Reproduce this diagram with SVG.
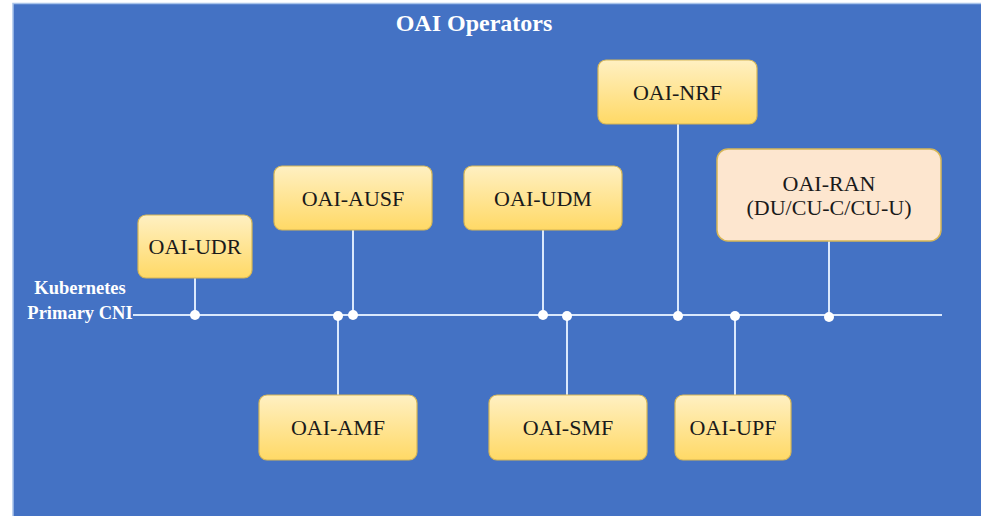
<svg xmlns="http://www.w3.org/2000/svg" width="981" height="516" viewBox="0 0 981 516">
<style>
.lbl{font-family:"Liberation Serif","Times New Roman",serif;font-size:22px;fill:#1a1a1a;text-anchor:middle}
.box{fill:url(#gold);stroke:#d6b656;stroke-width:1.2}
.ran{fill:#fde6cf;stroke:#d6b656;stroke-width:1.5}
.wt{font-family:"Liberation Serif","Times New Roman",serif;font-weight:bold;fill:#ffffff;text-anchor:middle}
.ln{stroke:#dae8fc;stroke-width:2;fill:none}
.dot{fill:#ffffff}
</style>
<defs>
<linearGradient id="gold" x1="0" y1="0" x2="0" y2="1">
<stop offset="0" stop-color="#fff0c2"/>
<stop offset="1" stop-color="#ffd966"/>
</linearGradient>
</defs>
<rect x="0" y="0" width="981" height="516" fill="#ffffff"/>
<rect x="13" y="3.5" width="969" height="514" fill="#4472c4" stroke="#a9c4ea" stroke-width="1.5"/>
<text class="wt" x="474" y="31" font-size="24">OAI Operators</text>
<text class="wt" x="80" y="294" font-size="18.5">Kubernetes</text>
<text class="wt" x="80" y="319" font-size="18.5">Primary CNI</text>
<g id="connectors">
<line class="ln" x1="133" y1="315" x2="942" y2="315"/>
<line class="ln" x1="195" y1="278" x2="195" y2="315"/>
<line class="ln" x1="353" y1="230" x2="353" y2="315"/>
<line class="ln" x1="338" y1="315" x2="338" y2="395"/>
<line class="ln" x1="543" y1="230" x2="543" y2="315"/>
<line class="ln" x1="567" y1="315" x2="567" y2="395"/>
<line class="ln" x1="678" y1="124" x2="678" y2="315"/>
<line class="ln" x1="735" y1="315" x2="735" y2="395"/>
<line class="ln" x1="829" y1="240" x2="829" y2="315"/>
<circle class="dot" cx="195" cy="315" r="5"/>
<circle class="dot" cx="338" cy="316" r="5"/>
<circle class="dot" cx="353" cy="315" r="5"/>
<circle class="dot" cx="543" cy="315" r="5"/>
<circle class="dot" cx="567" cy="316" r="5"/>
<circle class="dot" cx="678" cy="316" r="5"/>
<circle class="dot" cx="735" cy="316" r="5"/>
<circle class="dot" cx="829" cy="317" r="5"/>
</g>
<g id="udr"><rect class="box" x="138" y="215" width="114" height="63" rx="8"/><text class="lbl" x="195" y="254">OAI-UDR</text></g>
<g id="ausf"><rect class="box" x="274" y="166" width="158" height="64" rx="8"/><text class="lbl" x="353" y="205.5">OAI-AUSF</text></g>
<g id="udm"><rect class="box" x="464" y="166" width="158" height="64" rx="8"/><text class="lbl" x="543" y="205.5">OAI-UDM</text></g>
<g id="nrf"><rect class="box" x="598" y="60" width="159" height="64" rx="8"/><text class="lbl" x="677.5" y="99.5">OAI-NRF</text></g>
<g id="ran"><rect class="ran" x="717" y="149" width="224" height="92" rx="11"/><text class="lbl" x="829" y="191">OAI-RAN</text><text class="lbl" x="829" y="215">(DU/CU-C/CU-U)</text></g>
<g id="amf"><rect class="box" x="259" y="395" width="158" height="65" rx="8"/><text class="lbl" x="338" y="435">OAI-AMF</text></g>
<g id="smf"><rect class="box" x="489" y="395" width="158" height="65" rx="8"/><text class="lbl" x="568" y="435">OAI-SMF</text></g>
<g id="upf"><rect class="box" x="675" y="395" width="116" height="65" rx="8"/><text class="lbl" x="733" y="435">OAI-UPF</text></g>
</svg>
